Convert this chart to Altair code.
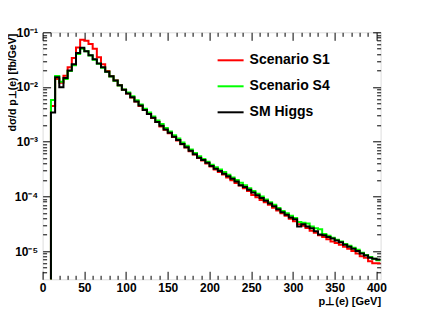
import altair as alt
import pandas as pd

# ---- data (5 GeV bins, lower edges 0..400) ----
bin_low = list(range(0, 405, 5))

s1 = [0, 0, 4.5e-3, 0.0140, 0.0120, 0.0160, 0.0230, 0.0340, 0.0530, 0.0730,
      0.0700, 0.0610, 0.0500, 0.0350, 0.0260, 0.0195, 0.0157, 0.0131, 0.0107, 0.0089,
      0.0076, 0.0064, 0.0054, 0.0045, 0.0038, 0.0032, 0.0027, 0.0023, 0.0019, 0.00165,
      0.00142, 0.00122, 0.00105, 0.0009, 0.00078, 0.00067, 0.00058, 0.0005, 0.00045, 0.0004,
      0.00035, 0.00031, 0.00028, 0.00025, 0.000222, 0.000196, 0.000176, 0.000158, 0.00014, 0.000125,
      0.000106, 9.6e-5, 8.6e-5, 7.8e-5, 7.0e-5, 6.2e-5, 5.5e-5, 4.9e-5, 4.4e-5, 3.9e-5,
      3.5e-5, 3.1e-5, 2.9e-5, 2.65e-5, 2.35e-5, 2.15e-5, 1.95e-5, 1.8e-5, 1.65e-5, 1.5e-5,
      1.4e-5, 1.3e-5, 1.2e-5, 1.1e-5, 1.0e-5, 9.0e-6, 8.0e-6, 7.5e-6, 6.5e-6, 6.0e-6,
      6.0e-6]

s4 = [0, 0, 5.8e-3, 0.0158, 0.0125, 0.0140, 0.0195, 0.0250, 0.0400, 0.0500,
      0.0450, 0.0375, 0.0315, 0.0265, 0.0225, 0.0190, 0.0155, 0.0130, 0.0106, 0.0090,
      0.0079, 0.0068, 0.0057, 0.0048, 0.0040, 0.0034, 0.0029, 0.00245, 0.0021, 0.00177,
      0.00154, 0.00131, 0.00114, 0.00097, 0.00084, 0.00072, 0.00062, 0.00054, 0.00048, 0.00043,
      0.00038, 0.00034, 0.00031, 0.00028, 0.000248, 0.000222, 0.000198, 0.000178, 0.000160, 0.000141,
      0.000125, 0.000111, 9.9e-5, 8.8e-5, 7.8e-5, 7.0e-5, 6.1e-5, 5.4e-5, 4.9e-5, 4.4e-5,
      4.0e-5, 3.4e-5, 3.3e-5, 3.2e-5, 2.8e-5, 2.6e-5, 2.5e-5, 2.05e-5, 1.9e-5, 1.75e-5,
      1.6e-5, 1.5e-5, 1.35e-5, 1.25e-5, 1.15e-5, 1.05e-5, 9.3e-6, 8.5e-6, 7.8e-6, 7.2e-6,
      6.8e-6]

sm = [0, 0, 3.4e-3, 0.0150, 0.0099, 0.0146, 0.0200, 0.0260, 0.0420, 0.0520,
      0.0450, 0.0380, 0.0320, 0.0270, 0.0230, 0.0190, 0.0157, 0.0132, 0.0107, 0.0089,
      0.0076, 0.0065, 0.0054, 0.0046, 0.0038, 0.0032, 0.00275, 0.0023, 0.00195, 0.00166,
      0.00145, 0.00123, 0.00107, 0.00091, 0.00079, 0.00068, 0.00059, 0.00051, 0.00046, 0.00041,
      0.00036, 0.00032, 0.00029, 0.00026, 0.000234, 0.000209, 0.000186, 0.000160, 0.000148, 0.000132,
      0.000117, 0.000105, 9.3e-5, 8.3e-5, 7.4e-5, 6.6e-5, 5.8e-5, 5.1e-5, 4.6e-5, 4.1e-5,
      3.8e-5, 2.8e-5, 3.1e-5, 2.8e-5, 2.6e-5, 2.3e-5, 2.0e-5, 1.95e-5, 1.8e-5, 1.7e-5,
      1.55e-5, 1.45e-5, 1.3e-5, 1.2e-5, 1.1e-5, 1.0e-5, 9.0e-6, 8.3e-6, 7.5e-6, 7.2e-6,
      7.0e-6]

names = ["Scenario S1", "Scenario S4", "SM Higgs"]
line_colors = ["#ff0000", "#00ff00", "#000000"]

x_major = [0, 50, 100, 150, 200, 250, 300, 350, 400]
x_minor = [10, 20, 30, 40, 60, 70, 80, 90, 110, 120, 130, 140, 160, 170, 180, 190,
           210, 220, 230, 240, 260, 270, 280, 290, 310, 320, 330, 340, 360, 370, 380, 390]
y_major = [1e-5, 1e-4, 1e-3, 1e-2, 1e-1]
y_minor = [4e-6, 5e-6, 6e-6, 7e-6, 8e-6, 9e-6,
           2e-5, 3e-5, 4e-5, 5e-5, 6e-5, 7e-5, 8e-5, 9e-5,
           2e-4, 3e-4, 4e-4, 5e-4, 6e-4, 7e-4, 8e-4, 9e-4,
           2e-3, 3e-3, 4e-3, 5e-3, 6e-3, 7e-3, 8e-3, 9e-3,
           2e-2, 3e-2, 4e-2, 5e-2, 6e-2, 7e-2, 8e-2, 9e-2]

# ---- table ----
rows = []
for name, vals in zip(names, [s1, s4, sm]):
    for lo, v in zip(bin_low, vals):
        rows.append({"series": name, "x": lo, "y": v if v > 0 else 1e-9})
    rows.append({"series": name, "x": bin_low[-1] + 5, "y": vals[-1]})
df = pd.DataFrame(rows)

W, H = 338, 247
FONT = "Liberation Sans"

xs = alt.Scale(domain=[0, 405], nice=False, zero=False)
ys = alt.Scale(type="log", domain=[3.04e-6, 0.1], nice=False)


def tick_axis(orient, offset, values, size):
    return alt.Axis(orient=orient, offset=offset, values=values, tickSize=size,
                    ticks=True, labels=False, domain=False, grid=False, title=None,
                    tickColor="black", tickWidth=1)


color = alt.Color(
    "series:N",
    scale=alt.Scale(domain=names, range=line_colors),
    legend=alt.Legend(orient="none", legendX=174, legendY=14, title=None,
                      symbolType="stroke", symbolSize=676, symbolStrokeWidth=2,
                      labelFont=FONT, labelFontSize=14, labelFontWeight="bold",
                      labelOffset=5, rowPadding=5, padding=0),
)

base = alt.Chart(df)


def line_layer(series, xaxis, yaxis, visible=True):
    mark = base.transform_filter(alt.datum.series == series).mark_line(
        interpolate="step-after", strokeWidth=2, clip=True,
        opacity=1 if visible else 0)
    enc = {"x": alt.X("x:Q", scale=xs, axis=xaxis),
           "y": alt.Y("y:Q", scale=ys, axis=yaxis)}
    if visible:
        enc["color"] = color
    return mark.encode(**enc)


label_x = alt.Axis(orient="bottom", values=x_major, ticks=False, tickSize=0, domain=False,
                   grid=False, labelFont=FONT, labelFontSize=12, labelFontWeight="bold",
                   labelColor="black", labelPadding=3, labelFlush=False, labelOverlap=False,
                   format="d", title="p⊥(e)  [GeV]", titleFont=FONT, titleFontSize=11,
                   titleFontWeight="bold", titleColor="black", titleAnchor="end",
                   titleAlign="right", titleX=W, titleY=22, titleBaseline="middle")

label_y = alt.Axis(orient="left", values=y_major, ticks=False, tickSize=0, domain=False,
                   grid=False, labelFont=FONT, labelFontSize=12, labelFontWeight="bold",
                   labelColor="black", labelPadding=5, labelOverlap=False,
                   labelExpr=("datum.value > 0.05 ? '10⁻¹' : datum.value > 0.005 ? '10⁻²' : "
                              "datum.value > 0.0005 ? '10⁻³' : datum.value > 0.00005 ? '10⁻⁴' : '10⁻⁵'"),
                   title="dσ/d p⊥(e) [fb/GeV]", titleFont=FONT, titleFontSize=10.5,
                   titleFontWeight="bold", titleColor="black", titleAngle=270,
                   titleAlign="right", titleX=-30, titleY=1, titleBaseline="middle")

layers = [
    line_layer("SM Higgs", tick_axis("bottom", -H, x_major, 8), tick_axis("left", -W, y_major, 8), visible=False),
    line_layer("SM Higgs", tick_axis("bottom", -H, x_minor, 4), tick_axis("left", -W, y_minor, 4), visible=False),
    line_layer("Scenario S1", label_x, label_y),
    line_layer("Scenario S4", tick_axis("top", -H, x_major, 8), tick_axis("right", -W, y_major, 8)),
    line_layer("SM Higgs", tick_axis("top", -H, x_minor, 4), tick_axis("right", -W, y_minor, 4)),
]

chart = (
    alt.layer(*layers)
    .resolve_axis(x="independent", y="independent")
    .resolve_scale(x="shared", y="shared", color="shared")
    .properties(width=W, height=H,
                autosize=alt.AutoSizeParams(type="none"),
                padding={"left": 34.6, "top": 24.3, "right": 20, "bottom": 30})
    .configure_view(stroke="black", strokeWidth=1)
    .configure(background="white")
)

chart.save("out.html", embed_options={"renderer": "svg", "actions": False})
